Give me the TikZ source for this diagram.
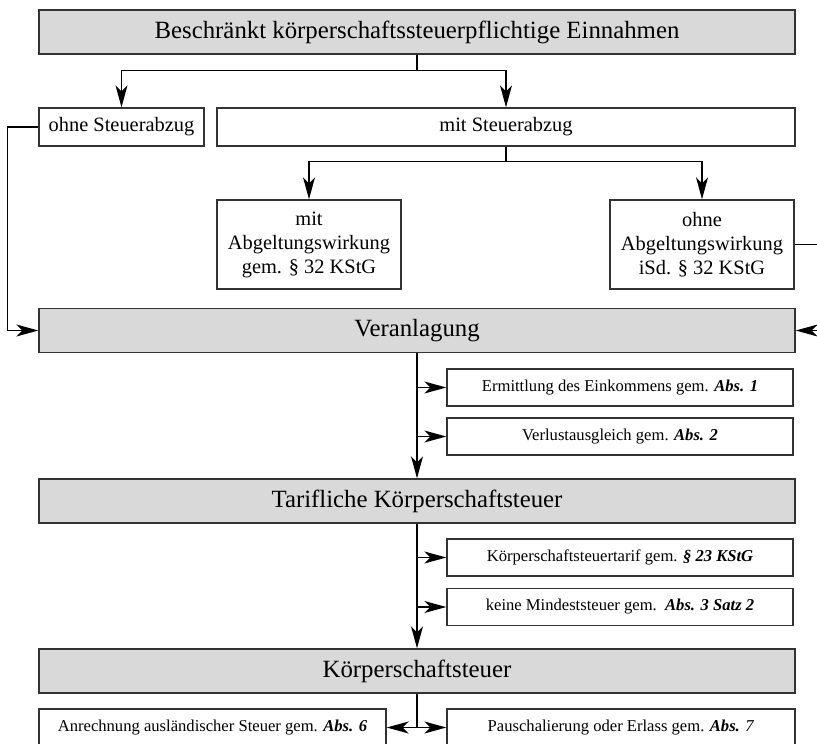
\documentclass[tikz,border=0pt]{standalone}
\usepackage{fontspec}
\setmainfont{Liberation Serif}
\usetikzlibrary{arrows.meta, calc, positioning}

\tikzset{
  box/.style={draw=black!80, line width=0.7pt, inner sep=0pt, align=center},
  headbox/.style={box, fill=black!15, minimum width=378pt, minimum height=22pt, font=\fontsize{12.4}{14}\selectfont},
  midbox/.style={box, minimum height=19pt, font=\fontsize{10.2}{12}\selectfont},
  smallbox/.style={box, minimum width=173pt, minimum height=18.5pt, font=\fontsize{8.3}{10}\selectfont},
  arr/.style={-{Stealth[length=11pt, width=6pt, inset=3pt]}},
}

\begin{document}
\begin{tikzpicture}[x=0.5pt, y=-0.5pt, line width=0.6pt]
            \useasboundingbox (0,0) rectangle (817,743);
            \clip (0,0) rectangle (817,743);
            \node[headbox] (ein) at (417,32) {Beschränkt körperschaftssteuerpflichtige Einnahmen};
            \node[midbox, minimum width=82.5pt] (ohne) at (121.5,127) {ohne Steuerabzug};
            \node[midbox, minimum width=289pt] (mit) at (506,127) {mit Steuerabzug};
            \node[midbox, minimum width=92pt, minimum height=44.5pt] (mitab) at (309,244.5) {mit\\Abgeltungswirkung\\gem. § 32 KStG};
            \node[midbox, minimum width=92pt, minimum height=44.5pt] (ohneab) at (702,244.5) {ohne\\Abgeltungswirkung\\iSd. § 32 KStG};
            \node[headbox] (veran) at (417,330.5) {Veranlagung};
            \node[smallbox] (ermit) at (620,387.5) {Ermittlung des Einkommens gem. \textbf{\textit{Abs. 1}}};
            \node[smallbox] (verl) at (620,436.5) {Verlustausgleich gem. \textbf{\textit{Abs. 2}}};
            \node[headbox] (tarif) at (417,501) {Tarifliche Körperschaftsteuer};
            \node[smallbox] (kstg) at (620,557.5) {Körperschaftsteuertarif gem. \textbf{\textit{§ 23 KStG}}};
            \node[smallbox] (mind) at (620,607) {keine Mindeststeuer gem.\ \ \textbf{\textit{Abs. 3 Satz 2}}};
            \node[headbox] (kst) at (417,671) {Körperschaftsteuer};
            \node[smallbox, minimum width=173.5pt] (anr) at (212.5,727.5) {Anrechnung ausländischer Steuer gem. \textbf{\textit{Abs. 6}}};
            \node[smallbox, minimum width=174pt] (pau) at (621,727.5) {Pauschalierung oder Erlass gem. \textbf{\textit{Abs.}} \textit{7}};
            \draw[arr] (ein.south) -- ++(0,16) -| (ohne.north);
            \draw[arr] (ein.south) -- ++(0,16) -| (mit.north);
            \draw[arr] (mit.south) -- ++(0,15) -| (mitab.north);
            \draw[arr] (mit.south) -- ++(0,15) -| (ohneab.north);
            \draw[arr] (ohne.west) -- ++(-31,0) |- (veran.west);
            \draw[arr] (ohneab.east) -- ++(40,0) |- (veran.east);
            \draw[arr] (veran.south) -- (tarif.north);
            \draw[arr] (veran.south |- ermit.west) -- (ermit.west);
            \draw[arr] (veran.south |- verl.west) -- (verl.west);
            \draw[arr] (tarif.south) -- (kst.north);
            \draw[arr] (tarif.south |- kstg.west) -- (kstg.west);
            \draw[arr] (tarif.south |- mind.west) -- (mind.west);
            \draw (kst.south) -- (kst.south |- anr.east);
            \draw[arr] (kst.south |- anr.east) -- (anr.east);
            \draw[arr] (kst.south |- pau.west) -- (pau.west);
        \end{tikzpicture}
\end{document}
